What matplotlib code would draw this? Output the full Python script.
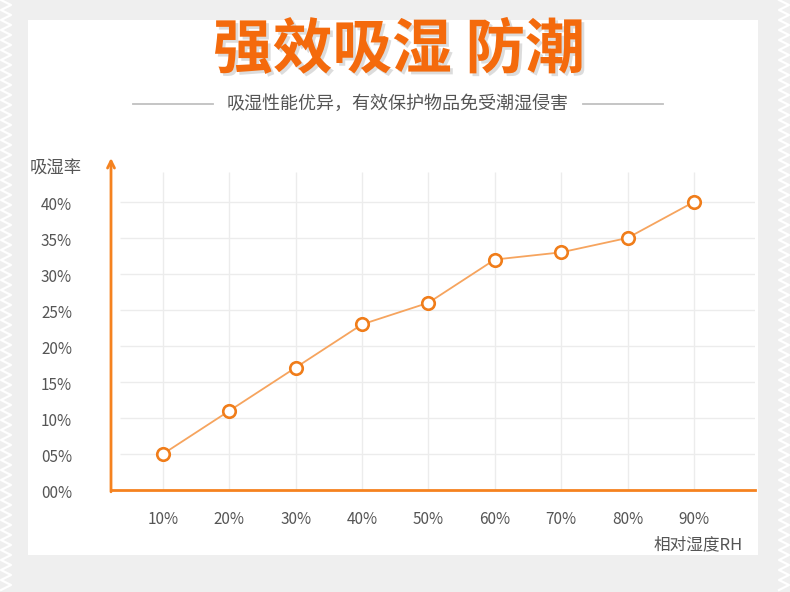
import matplotlib
matplotlib.use("Agg")
import matplotlib.pyplot as plt
import matplotlib.patheffects as pe
from matplotlib.lines import Line2D
from matplotlib.patches import Rectangle
from matplotlib.transforms import ScaledTranslation

plt.rcParams['font.family'] = ['Noto Sans CJK SC', 'DejaVu Sans']

# ---- data ----
rh = [10, 20, 30, 40, 50, 60, 70, 80, 90]
rh_labels = ['10%', '20%', '30%', '40%', '50%', '60%', '70%', '80%', '90%']
absorb = [5, 11, 17, 23, 26, 32, 33, 35, 40]
y_ticks = [0, 5, 10, 15, 20, 25, 30, 35, 40]
y_labels = ['00%', '05%', '10%', '15%', '20%', '25%', '30%', '35%', '40%']

title = '强效吸湿 防潮'
subtitle = '吸湿性能优异，有效保护物品免受潮湿侵害'
y_name = '吸湿率'
x_name = '相对湿度RH'

W, H = 790, 592
fig = plt.figure(figsize=(W / 100, H / 100), dpi=100)
fig.patch.set_facecolor('#efefef')

def fx(px):
    return px / W

def fy(py):
    return 1 - py / H

# white panel
fig.add_artist(Rectangle((fx(28), fy(555)), fx(758) - fx(28), fy(20) - fy(555),
                         transform=fig.transFigure, facecolor='white', edgecolor='none', zorder=0))

# zigzag stamp edges
for x0, x1 in [(1, 11), (779, 789)]:
    xs, ys = [], []
    y = 0
    i = 0
    while y <= H:
        xs.append(fx(x0 if i % 2 == 0 else x1))
        ys.append(fy(y))
        y += 5
        i += 1
    fig.add_artist(Line2D(xs, ys, transform=fig.transFigure, color='white', lw=1.6, zorder=0.5))

# axes
left, right, top, bottom = 111, 755, 158, 490
ax = fig.add_axes([fx(left), fy(bottom), fx(right) - fx(left), fy(top) - fy(bottom)])
ax.set_facecolor('none')
ax.set_xlim(2.17, 99.2)
ax.set_ylim(0, 46.1)

orange = '#f5821f'
# grid
ax.hlines(y_ticks[1:], 3.5, 99.2, colors='#ececec', lw=1, zorder=1)
ax.vlines(rh, 0, 44.2, colors='#ececec', lw=1, zorder=1)

ax.plot(rh, absorb, color='#f6a45e', lw=1.3, zorder=3)
ax.plot(rh, absorb, 'o', ms=9, mfc='white', mec='#f07d1a', mew=1.9, zorder=4)

for s in ['top', 'right', 'left']:
    ax.spines[s].set_visible(False)
ax.spines['bottom'].set_color(orange)
ax.spines['bottom'].set_linewidth(2)
ax.annotate('', xy=(2.17, 46.1), xytext=(2.17, -0.25), xycoords='data',
            arrowprops=dict(arrowstyle='->,head_length=0.5,head_width=0.25', color=orange, lw=2,
                            shrinkA=0, shrinkB=0), annotation_clip=False)

ax.set_xticks(rh)
ax.set_xticklabels(rh_labels)
ax.set_yticks(y_ticks)
ax.set_yticklabels(y_labels)
ax.tick_params(axis='both', length=0, labelsize=11, labelcolor='#555555')
ax.tick_params(axis='y', pad=28)
ax.tick_params(axis='x', pad=15)
for t in ax.get_yticklabels() + ax.get_xticklabels():
    t.set_fontweight('medium')
for t in ax.get_yticklabels():
    t.set_transform(t.get_transform() + ScaledTranslation(0, -0.02, fig.dpi_scale_trans))

fig.text(fx(56), fy(168), y_name, ha='center', va='center', fontsize=12.5, color='#555555')
fig.text(fx(698), fy(545), x_name, ha='center', va='center', fontsize=12, color='#555555')

fig.text(fx(399), fy(51), title, ha='center', va='center', fontsize=43, fontweight='bold',
         color='#f46a0c',
         path_effects=[pe.SimplePatchShadow(offset=(2, -2), shadow_rgbFace='#bbbbbb', alpha=0.5),
                       pe.Normal()])
fig.text(fx(398), fy(104), subtitle, ha='center', va='center', fontsize=13, color='#555555')
fig.add_artist(Line2D([fx(133), fx(213)], [fy(104), fy(104)], transform=fig.transFigure,
                      color='#c0c0c0', lw=1.3))
fig.add_artist(Line2D([fx(583), fx(663)], [fy(104), fy(104)], transform=fig.transFigure,
                      color='#c0c0c0', lw=1.3))

fig.savefig('out.png', dpi=100, facecolor=fig.get_facecolor())
